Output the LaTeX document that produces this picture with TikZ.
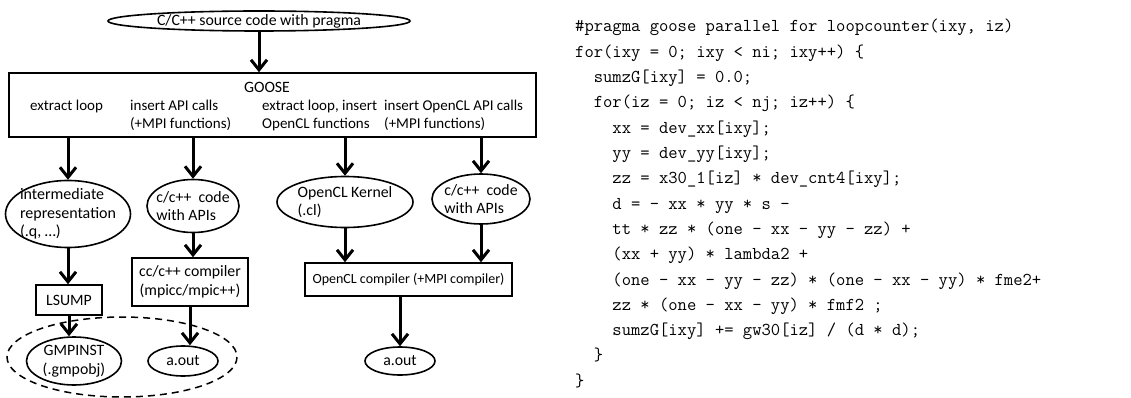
\documentclass[tikz,border=0pt]{standalone}
\usepackage{fontspec}
\setsansfont{Carlito}
\usepackage{tikz}
\usetikzlibrary{arrows.meta}
\usetikzlibrary{shapes.geometric}

\begin{document}
\begin{tikzpicture}[
        x=1pt, y=-1pt,
        font=\sffamily\fontsize{15.8}{18.5}\selectfont,
        proc/.style={draw, rectangle, line width=1.6pt, inner sep=0pt, align=center},
        data/.style={draw, ellipse, line width=1.6pt, inner sep=0pt},
        steplabel/.style={anchor=north west, inner sep=0pt, align=left, font=\sffamily\fontsize{15}{17.5}\selectfont},
        flow/.style={-{Straight Barb[length=10pt, width=16pt]}, line width=3pt},
        group/.style={dashed, line width=1.5pt, dash pattern=on 7pt off 5pt},
        codeline/.style={anchor=base west, inner sep=0pt, font=\ttfamily\fontsize{18.1}{25.3}\selectfont},
    ]
        \useasboundingbox (0,0) rectangle (1131,398);

        % --- Entrada y GOOSE ---
        \node[data, minimum width=302, minimum height=20] (src) at (259,21) {C/C++ source code with pragma};
        \node[proc, minimum width=527, minimum height=64] (goose) at (272.5,105) {};
        \node[inner sep=0pt] (goose-t) at (267,87) {GOOSE};
        \node[steplabel] (s1) at (30,100) {extract loop};
        \node[steplabel] (s2) at (130,100) {insert API calls\\(+MPI functions)};
        \node[steplabel] (s3) at (262,100) {extract loop, insert\\OpenCL functions};
        \node[steplabel] (s4) at (384,100) {insert OpenCL API calls\\(+MPI functions)};

        % --- Resultados de GOOSE ---
        \node[data, minimum width=125, minimum height=67] (ir) at (68,214) {};
        \node[align=left, inner sep=0pt, font=\sffamily\fontsize{16}{18.5}\selectfont] (ir-t) at (ir) {intermediate\\representation\\(.q, \dots)};
        \node[data, minimum width=92, minimum height=53] (cc1) at (193,206) {};
        \node[align=left, inner sep=0pt] (cc1-t) at (cc1) {c/c++~ code\\with APIs};
        \node[data, minimum width=136, minimum height=51] (kern) at (345,202) {};
        \node[align=left, inner sep=0pt] (kern-t) at (kern) {OpenCL Kernel\\(.cl)};
        \node[data, minimum width=98, minimum height=50] (cc2) at (481,199) {};
        \node[align=left, inner sep=0pt] (cc2-t) at (cc2) {c/c++~ code\\with APIs};

        % --- Compiladores ---
        \node[proc, minimum width=66, minimum height=30] (lsump) at (69,300) {LSUMP};
        \node[proc, minimum width=116, minimum height=48] (ccc) at (190,282) {cc/c++ compiler\\(mpicc/mpic++)};
        \node[proc, minimum width=207, minimum height=33, font=\sffamily\fontsize{14}{17}\selectfont] (oclc) at (408.5,279.5) {OpenCL compiler (+MPI compiler)};

        % --- Ejecutables ---
        \node[data, minimum width=95, minimum height=48, align=center] (gmp) at (74,361) {GMPINST\\(.gmpobj)};
        \node[data, minimum width=70, minimum height=30] (aout1) at (183,361) {a.out};
        \node[data, minimum width=70, minimum height=28] (aout2) at (400,361) {a.out};
        \draw[group] (122,357) ellipse [x radius=115, y radius=40];

        % --- Flechas ---
        \draw[flow] (src.south) -- (src.south |- goose.north);
        \foreach \n in {ir, cc1, kern, cc2} {
            \draw[flow] (\n.north |- goose.south) -- (\n.north);
        }
        \draw[flow] (ir.south) -- (ir.south |- lsump.north);
        \draw[flow] (cc1.south) -- (cc1.south |- ccc.north);
        \draw[flow] (kern.south) -- (kern.south |- oclc.north);
        \draw[flow] (cc2.south) -- (cc2.south |- oclc.north);
        \draw[flow] (lsump.south) -- (lsump.south |- gmp.north);
        \draw[flow] (ccc.south) -- (ccc.south |- aout1.north);
        \draw[flow] (aout2.north |- oclc.south) -- (aout2.north);

        % --- Codigo fuente ---
        \foreach \txt [count=\i] in {
            {\#pragma goose parallel for loopcounter(ixy, iz)},
            {for(ixy = 0; ixy < ni; ixy++) \{},
            {~~sumzG[ixy] = 0.0;},
            {~~for(iz = 0; iz < nj; iz++) \{},
            {~~~~xx = dev\_xx[ixy];},
            {~~~~yy = dev\_yy[ixy];},
            {~~~~zz = x30\_1[iz] * dev\_cnt4[ixy];},
            {~~~~d = - xx * yy * s -},
            {~~~~tt * zz * (one - xx - yy - zz) +},
            {~~~~(xx + yy) * lambda2 +},
            {~~~~(one - xx - yy - zz) * (one - xx - yy) * fme2+},
            {~~~~zz * (one - xx - yy) * fmf2 ;},
            {~~~~sumzG[ixy] += gw30[iz] / (d * d);},
            {~~\}},
            {\}}} {
            \node[codeline] (code\i) at (575,{32+25.3*(\i-1)}) {\txt};
        }
    \end{tikzpicture}
\end{document}
